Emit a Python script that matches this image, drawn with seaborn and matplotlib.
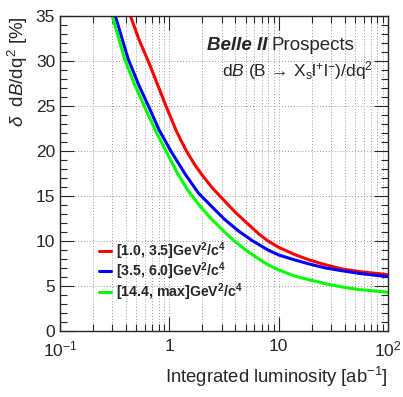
import numpy as np
import pandas as pd
import matplotlib
matplotlib.use("Agg")
import matplotlib.pyplot as plt
import matplotlib.ticker as mticker
import seaborn as sns

# ----------------------------------------------------------
# Data (luminosity in ab^-1, uncertainty in %)
# ----------------------------------------------------------
red_lumi = [0.44, 0.53, 0.66, 0.93, 1.15, 1.4, 1.7, 2.0, 2.43, 3.0, 4.0, 4.9,
            5.8, 6.7, 8.0, 10, 14, 19, 27, 38, 55, 90, 100]
red_unc = [35, 32.3, 29.6, 25, 22.3, 20.2, 18.5, 17.3, 16.0, 14.8, 13.2, 12.2,
           11.4, 10.7, 10.0, 9.3, 8.5, 7.9, 7.35, 6.9, 6.6, 6.33, 6.25]

blue_lumi = [0.32, 0.42, 0.53, 0.66, 0.8, 1.03, 1.4, 1.85, 2.5, 3.2, 4.3, 5.8,
             8.0, 10, 14, 19, 27, 38, 55, 90, 100]
blue_unc = [35, 30.2, 27.2, 24.7, 22.4, 20, 17.4, 15.3, 13.7, 12.4, 11.1, 10.0,
            9.0, 8.45, 7.9, 7.45, 7.0, 6.7, 6.4, 6.1, 6.05]

green_lumi = [0.30, 0.39, 0.48, 0.61, 0.75, 0.93, 1.2, 1.5, 1.9, 2.4, 2.8, 3.2,
              3.85, 5.0, 6.7, 8.0, 10, 14, 19, 27, 38, 55, 90, 100]
green_unc = [35, 30.2, 27.4, 24.6, 22.2, 20, 17.4, 15.5, 13.9, 12.5, 11.7, 11.0,
             10.1, 9.0, 7.95, 7.35, 6.8, 6.1, 5.7, 5.25, 4.9, 4.6, 4.37, 4.3]

bins = [r"[1.0, 3.5]GeV$^{\mathbf{2}}$/c$^{\mathbf{4}}$",
        r"[3.5, 6.0]GeV$^{\mathbf{2}}$/c$^{\mathbf{4}}$",
        r"[14.4, max]GeV$^{\mathbf{2}}$/c$^{\mathbf{4}}$"]
colors = ["#ff0000", "#0000ff", "#00ff00"]

df = pd.concat([
    pd.DataFrame({"lumi": red_lumi, "unc": red_unc, "bin": bins[0]}),
    pd.DataFrame({"lumi": blue_lumi, "unc": blue_unc, "bin": bins[1]}),
    pd.DataFrame({"lumi": green_lumi, "unc": green_unc, "bin": bins[2]}),
])

# ----------------------------------------------------------
# Style (ROOT-like)
# ----------------------------------------------------------
sns.set_style("ticks")
plt.rcParams["font.family"] = ["Liberation Sans", "DejaVu Sans"]
plt.rcParams["mathtext.fontset"] = "custom"
plt.rcParams["mathtext.rm"] = "Liberation Sans"
plt.rcParams["mathtext.it"] = "Liberation Sans:italic"
plt.rcParams["mathtext.bf"] = "Liberation Sans:bold"

fig = plt.figure(figsize=(4.03, 3.97), dpi=100)
ax = fig.add_axes([0.149, 0.166, 0.814, 0.794])

sns.lineplot(data=df, x="lumi", y="unc", hue="bin", palette=colors,
             linewidth=2.2, sort=True, ax=ax, estimator=None)

ax.set_xscale("log")
ax.set_xlim(0.1, 100)
ax.set_ylim(0, 35)

# grid
ax.xaxis.set_minor_locator(mticker.LogLocator(base=10, subs=np.arange(2, 10)))
ax.grid(which="major", axis="both", color="#999999", linestyle=(0, (1, 2)), linewidth=0.7)
ax.grid(which="minor", axis="x", color="#999999", linestyle=(0, (1, 2)), linewidth=0.7)
ax.set_axisbelow(True)

ax.yaxis.set_major_locator(mticker.MultipleLocator(5))
ax.yaxis.set_minor_locator(mticker.MultipleLocator(1))
ax.xaxis.set_major_locator(mticker.FixedLocator([0.1, 1, 10, 100]))
ax.xaxis.set_major_formatter(mticker.FixedFormatter(
    [r"$10^{-1}$", "1", "10", r"$10^{2}$"]))
ax.xaxis.set_minor_formatter(mticker.NullFormatter())

ax.tick_params(which="both", direction="in", top=True, right=True, labelsize=12.5, width=0.8)
ax.tick_params(which="major", length=10)
ax.tick_params(which="minor", length=5)
ax.tick_params(axis="x", pad=6)
for s in ax.spines.values():
    s.set_linewidth(1.0)

ax.set_xlabel(r"Integrated luminosity [ab$^{-1}$]", fontsize=13.3, loc="right")
ax.set_ylabel(r"$\delta$  d$B$/dq$^{2}$ [%]", fontsize=13.5, loc="top")

# text block
ax.text(0.631, 0.905, "Belle II", transform=ax.transAxes, ha="right", va="center",
        fontsize=13.5, fontweight="bold", fontstyle="italic")
ax.text(0.646, 0.905, "Prospects", transform=ax.transAxes, ha="left", va="center",
        fontsize=13.5)
ax.text(0.955, 0.825, r"d$B$ (B$\,\rightarrow\,$X$_{\mathrm{s}}$l$^{+}$l$^{-}$)/dq$^{2}$",
        transform=ax.transAxes, ha="right", va="center", fontsize=12.5)

leg = ax.legend(loc="upper left", bbox_to_anchor=(0.10, 0.305), frameon=False,
                prop={"weight": "bold", "size": 10.2}, handlelength=0.9,
                handletextpad=0.35, labelspacing=-0.1, borderaxespad=0)

plt.savefig("out.png", dpi=100)
